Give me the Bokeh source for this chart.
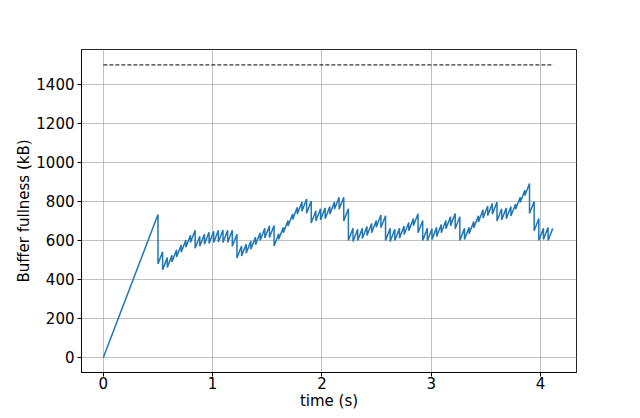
from bokeh.plotting import figure
from bokeh.models import Range1d, FixedTicker
from bokeh.embed import file_html
from bokeh.resources import INLINE

# ---- data ----
start_time = [0.0]
start_kb = [0.0]

frame_time = [
    0.5, 0.5425, 0.585, 0.6275, 0.67, 0.7125, 0.755, 0.7975,
    0.84, 0.8825, 0.925, 0.9675, 1.01, 1.0525, 1.095, 1.1375,
    1.18, 1.2225, 1.265, 1.3075, 1.35, 1.3925, 1.435, 1.4775,
    1.52, 1.5625, 1.605, 1.6475, 1.69, 1.7325, 1.775, 1.8175,
    1.86, 1.9025, 1.945, 1.9875, 2.03, 2.0725, 2.115, 2.1575,
    2.2, 2.2425, 2.285, 2.3275, 2.37, 2.4125, 2.455, 2.4975,
    2.54, 2.5825, 2.625, 2.6675, 2.71, 2.7525, 2.795, 2.8375,
    2.88, 2.9225, 2.965, 3.0075, 3.05, 3.0925, 3.135, 3.1775,
    3.22, 3.2625, 3.305, 3.3475, 3.39, 3.4325, 3.475, 3.5175,
    3.56, 3.6025, 3.645, 3.6875, 3.73, 3.7725, 3.815, 3.8575,
    3.9, 3.9425, 3.985, 4.0275, 4.07, 4.1125,
]
before_removal_kb = [
    733, 542, 512, 524, 552, 577, 602, 627,
    652, 622, 632, 642, 647, 652, 654, 652,
    652, 632, 572, 582, 597, 617, 640, 662,
    675, 677, 634, 668, 702, 736, 770, 797,
    812, 802, 752, 762, 767, 774, 797, 822,
    822, 762, 662, 657, 662, 672, 687, 702,
    730, 727, 662, 657, 662, 674, 692, 712,
    737, 702, 662, 660, 667, 682, 702, 722,
    738, 722, 662, 667, 697, 727, 757, 777,
    790, 797, 762, 767, 774, 787, 822, 857,
    892, 800, 712, 662, 667, 662,
]
after_removal_kb = [
    480, 450, 462, 490, 515, 540, 565, 590,
    560, 570, 580, 585, 590, 592, 590, 590,
    570, 510, 520, 535, 555, 578, 600, 613,
    615, 572, 606, 640, 674, 708, 735, 750,
    740, 690, 700, 705, 712, 735, 760, 760,
    700, 600, 595, 600, 610, 625, 640, 668,
    665, 600, 595, 600, 612, 630, 650, 675,
    640, 600, 598, 605, 620, 640, 660, 676,
    660, 600, 605, 635, 665, 695, 715, 728,
    735, 700, 705, 712, 725, 760, 795, 830,
    738, 650, 600, 605, 600, 662,
]
buffer_size_kb = 1500
buffer_line_time = [0.0, 4.12]

x_ticks = [0, 1, 2, 3, 4]
y_ticks = [0, 200, 400, 600, 800, 1000, 1200, 1400]

# ---- build line vertices ----
xs = list(start_time)
ys = list(start_kb)
for t, a, b in zip(frame_time, before_removal_kb, after_removal_kb):
    xs += [t, t]
    ys += [a, b]

FONT = "DejaVu Sans"

p = figure(width=632, height=414, output_backend="svg", toolbar_location=None,
           x_range=Range1d(-0.2, 4.33), y_range=Range1d(-77, 1579),
           min_border_left=81, min_border_right=56, min_border_top=49,
           min_border_bottom=42)

p.line(xs, ys, line_color="#1f77b4", line_width=1.5)
p.line(buffer_line_time, [buffer_size_kb, buffer_size_kb], line_color="black",
       line_width=1, line_dash="4 2")

p.outline_line_color = "black"
p.outline_line_width = 1
p.outline_line_alpha = 0.85
p.background_fill_color = "white"
p.border_fill_color = "white"

p.xaxis.ticker = FixedTicker(ticks=x_ticks)
p.yaxis.ticker = FixedTicker(ticks=y_ticks)
p.xaxis.axis_label = "time (s)"
p.yaxis.axis_label = "Buffer fullness (kB)"

for ax in (p.xaxis[0], p.yaxis[0]):
    ax.major_label_text_font = FONT
    ax.major_label_text_font_size = "15px"
    ax.major_label_text_color = "black"
    ax.axis_label_text_font = FONT
    ax.axis_label_text_font_size = "15px"
    ax.axis_label_text_font_style = "normal"
    ax.axis_label_text_color = "black"
    ax.axis_label_standoff = 0
    ax.major_tick_out = 4
    ax.major_tick_in = 0
    ax.minor_tick_out = 0
    ax.minor_tick_in = 0
    ax.major_tick_line_color = "black"
    ax.axis_line_color = "black"
    ax.axis_line_alpha = 0.85

p.xaxis.major_label_standoff = 0
p.yaxis.major_label_standoff = 3

p.grid.grid_line_color = "#b0b0b0"
p.grid.grid_line_width = 0.8

open("out.html", "w").write(file_html(p, INLINE))
